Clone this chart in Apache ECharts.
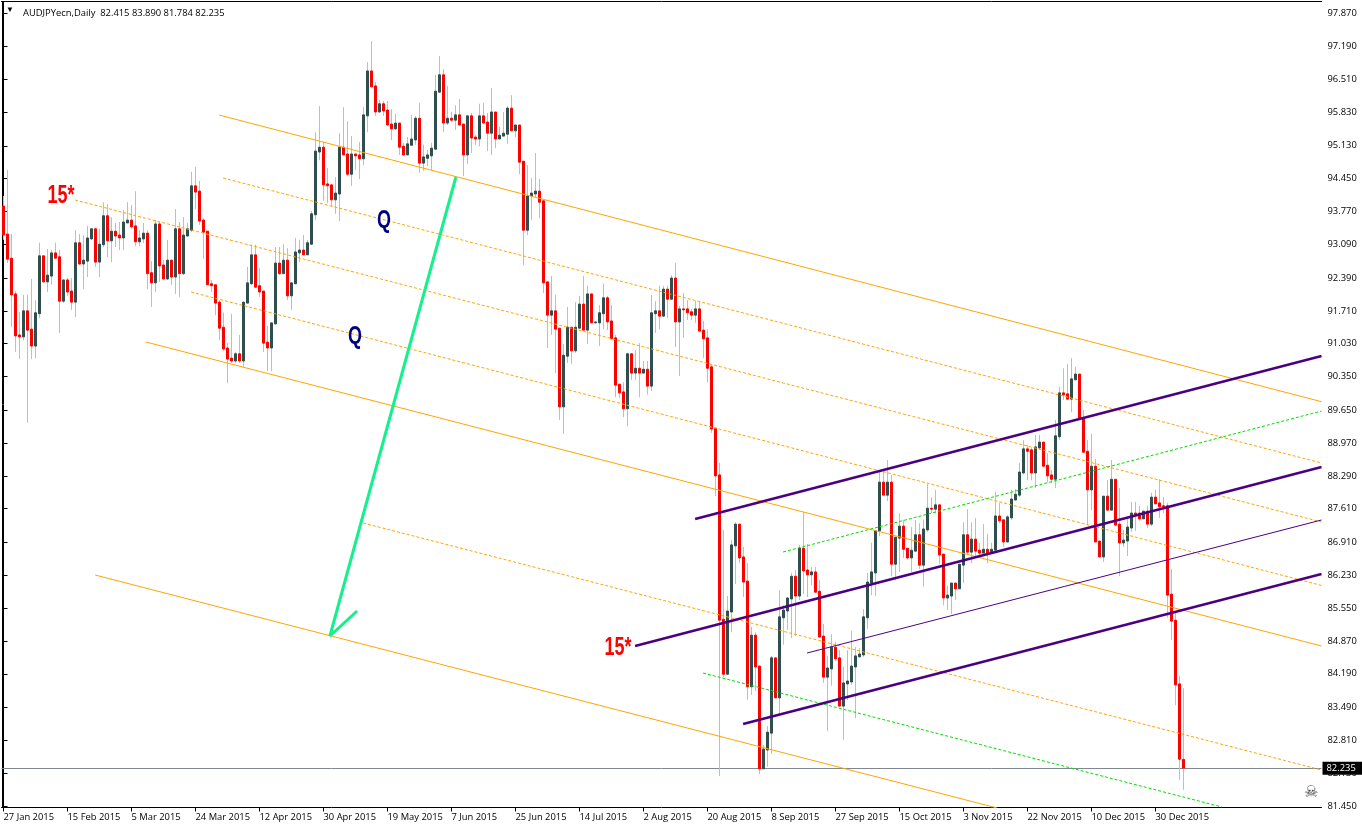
<!DOCTYPE html>
<html><head><meta charset="utf-8">
<style>html,body{margin:0;padding:0;background:#fff}#c{width:1362px;height:829px}</style>
<script src="https://cdn.jsdelivr.net/npm/echarts@6/dist/echarts.min.js"></script>
</head><body><div id="c"></div>
<script>
const dateLabels=['27 Jan 2015','15 Feb 2015','5 Mar 2015','24 Mar 2015','12 Apr 2015','30 Apr 2015','19 May 2015','7 Jun 2015','25 Jun 2015','14 Jul 2015','2 Aug 2015','20 Aug 2015','8 Sep 2015','27 Sep 2015','15 Oct 2015','3 Nov 2015','22 Nov 2015','10 Dec 2015','30 Dec 2015'];
const priceTicks=[97.87,97.19,96.51,95.83,95.13,94.45,93.77,93.09,92.39,91.71,91.03,90.35,89.65,88.97,88.29,87.61,86.91,86.23,85.55,84.87,84.19,83.49,82.81,82.13,81.45];
const opens=[93.88,93.30,92.80,92.06,91.21,91.17,91.71,91.33,90.98,91.65,92.85,92.31,92.43,92.91,92.83,91.91,92.35,92.12,91.89,93.12,92.68,92.74,93.20,93.41,92.72,93.08,93.68,93.16,93.36,93.28,93.22,93.53,93.59,93.47,93.14,93.20,93.32,92.50,92.29,93.51,92.66,92.37,92.76,92.41,93.41,92.48,93.26,93.38,94.30,94.19,93.59,93.36,92.27,92.25,91.89,91.37,90.94,90.73,90.67,90.82,90.67,91.87,92.27,92.87,92.23,92.12,91.06,90.94,91.44,92.70,92.48,92.76,92.02,92.27,92.91,92.97,92.87,93.09,93.70,95.00,95.10,94.34,94.32,94.01,94.13,95.10,94.96,94.54,94.96,94.94,94.86,95.75,96.68,96.37,95.83,96.00,95.87,95.58,95.48,95.60,95.12,94.94,95.14,95.25,95.70,94.77,94.87,94.92,95.06,96.24,96.60,95.60,95.70,95.66,95.77,95.58,94.94,95.75,95.31,95.27,95.75,95.62,95.39,95.83,95.27,95.33,95.37,95.91,95.44,95.56,94.81,93.38,94.09,94.13,94.19,93.99,92.31,91.62,91.71,91.35,89.72,90.77,91.37,90.88,91.35,91.85,91.31,92.06,91.46,91.46,91.65,91.98,91.50,91.15,90.19,90.03,89.68,90.82,90.42,90.52,90.42,90.50,90.15,91.65,91.71,91.60,92.16,91.95,92.39,91.48,91.75,91.75,91.69,91.62,91.75,91.31,91.15,90.55,89.28,88.31,85.32,84.18,85.47,86.84,87.29,86.61,86.11,83.92,84.99,84.35,82.22,82.61,82.96,84.52,83.69,85.35,85.49,85.74,86.21,85.80,86.79,86.34,86.24,86.30,85.90,84.97,84.12,84.29,84.74,84.52,83.52,83.98,84.02,84.33,84.54,84.58,85.35,86.07,86.28,87.15,88.16,87.89,88.16,86.46,87.00,87.25,86.79,86.59,86.73,87.07,86.44,87.17,87.62,87.60,87.69,86.67,85.76,85.80,86.07,85.95,86.44,87.07,86.71,86.98,86.75,86.69,86.77,86.71,86.75,87.46,87.38,86.92,87.42,87.79,87.89,88.35,88.85,88.83,88.35,88.87,88.99,88.51,88.31,88.22,89.10,90.01,89.99,89.88,90.28,90.40,89.49,88.80,88.00,88.49,86.94,86.61,87.87,87.58,88.22,87.29,86.90,86.94,87.21,87.52,87.52,87.40,87.56,87.29,87.85,87.73,87.67,87.67,85.84,85.30,83.98,82.415];
const closes=[93.28,92.78,92.04,91.19,91.17,91.71,91.31,90.98,91.67,92.85,92.31,92.45,92.91,92.80,91.91,92.35,92.10,91.89,93.12,92.68,92.76,93.22,93.41,92.72,93.09,93.68,93.16,93.36,93.26,93.22,93.55,93.59,93.45,93.14,93.22,93.32,92.48,92.29,93.51,92.64,92.37,92.76,92.41,93.41,92.48,93.28,93.41,94.30,94.17,93.57,93.34,92.25,92.23,91.87,91.35,90.92,90.71,90.67,90.82,90.67,91.89,92.29,92.87,92.20,92.10,91.04,90.94,91.46,92.70,92.48,92.76,92.02,92.29,92.93,92.97,92.87,93.12,93.72,95.02,95.10,94.32,94.30,94.01,94.15,95.10,94.94,94.54,94.96,94.92,94.86,95.77,96.68,96.35,95.83,96.00,95.85,95.56,95.48,95.60,95.10,94.94,95.17,95.27,95.70,94.77,94.90,94.94,95.08,96.26,96.60,95.60,95.70,95.66,95.77,95.56,94.94,95.75,95.29,95.27,95.75,95.60,95.39,95.83,95.27,95.35,95.39,95.91,95.44,95.56,94.79,93.38,94.09,94.15,94.19,93.96,92.29,91.62,91.71,91.33,89.72,90.79,91.37,90.88,91.37,91.85,91.31,92.06,91.46,91.48,91.67,91.98,91.48,91.13,90.17,90.01,89.68,90.82,90.42,90.52,90.42,90.50,90.15,91.67,91.71,91.60,92.16,91.95,92.39,91.48,91.75,91.73,91.67,91.62,91.75,91.29,91.13,90.52,89.26,88.29,85.30,84.18,85.49,86.86,87.29,86.59,86.09,83.92,84.99,84.33,82.22,82.63,82.98,84.52,83.69,85.37,85.51,85.76,86.21,85.80,86.79,86.32,86.24,86.30,85.88,84.95,84.12,84.31,84.74,84.50,83.52,84.00,84.04,84.35,84.56,84.60,85.37,86.09,86.30,87.15,88.16,87.89,88.16,86.46,87.02,87.25,86.77,86.59,86.75,87.07,86.44,87.19,87.62,87.60,87.69,86.65,85.76,85.82,86.07,85.95,86.46,87.07,86.71,86.98,86.73,86.69,86.77,86.69,86.77,87.46,87.36,86.92,87.44,87.81,87.91,88.37,88.85,88.80,88.35,88.89,88.99,88.49,88.29,88.22,89.12,90.01,89.97,89.88,90.30,90.40,89.47,88.78,88.00,88.49,86.92,86.61,87.87,87.58,88.22,87.27,86.90,86.96,87.23,87.52,87.48,87.40,87.56,87.29,87.85,87.71,87.65,87.65,85.82,85.28,83.96,82.42,82.235];
const highs=[94.09,94.63,93.30,92.12,91.69,92.04,92.04,92.37,91.93,93.12,92.85,92.99,92.97,93.12,92.97,92.35,92.39,92.39,93.38,93.30,93.28,93.47,93.41,93.43,93.41,93.96,93.92,93.65,93.53,93.55,93.80,93.96,93.90,94.19,93.38,93.53,93.38,92.74,93.59,93.55,92.76,93.18,92.76,93.82,93.55,93.65,93.53,94.59,94.69,94.40,93.63,93.36,92.35,92.25,91.93,91.67,91.04,91.65,90.86,91.21,91.89,92.62,93.08,93.08,92.60,92.12,91.40,91.46,93.03,93.03,93.09,93.01,92.29,93.22,93.18,93.28,93.18,93.78,95.41,95.95,95.21,94.67,94.32,94.48,95.39,95.93,95.64,95.33,94.96,95.21,95.93,96.86,97.30,96.45,96.08,96.06,96.06,95.89,95.79,95.60,95.19,95.31,95.77,95.75,96.02,95.15,95.04,95.19,96.60,96.99,96.72,96.37,95.83,95.97,96.10,95.58,95.75,95.81,95.35,96.00,96.02,95.81,96.33,95.83,95.52,95.83,95.95,96.18,95.56,95.56,94.81,94.73,94.46,94.98,94.44,93.99,92.31,92.43,92.04,91.35,91.02,91.79,91.37,91.89,92.02,92.43,92.23,92.06,91.48,91.83,92.27,92.02,91.83,91.21,90.19,90.23,90.84,90.82,90.90,91.04,90.67,90.67,92.04,91.91,92.23,92.23,92.23,92.45,92.70,91.81,92.08,91.93,91.75,91.91,91.91,91.50,91.33,90.61,89.28,88.56,87.17,85.80,86.96,87.33,87.29,86.82,86.48,85.16,85.05,84.35,82.71,83.11,84.56,84.52,85.92,85.61,85.78,86.28,86.34,86.86,87.54,86.88,86.40,86.40,86.13,85.22,84.56,85.01,84.85,84.68,84.33,84.68,85.08,84.74,84.72,85.53,86.28,86.90,87.15,88.37,88.37,88.62,88.31,87.02,87.52,87.38,86.79,87.23,87.38,87.31,87.38,88.12,87.85,88.00,87.69,86.67,86.01,86.07,86.07,86.46,87.33,87.60,87.33,87.42,86.90,87.29,87.09,86.90,87.96,87.73,87.38,87.48,88.00,88.02,88.56,89.03,88.93,88.87,89.14,89.14,88.99,88.76,88.41,89.45,90.13,90.52,90.61,90.73,90.55,90.40,89.66,89.03,89.16,88.64,86.94,87.87,88.20,88.62,88.22,88.04,87.17,87.44,87.75,87.75,87.67,87.56,87.67,87.94,88.00,88.22,87.85,87.73,86.36,85.45,84.14,83.89];
const lows=[93.18,92.70,91.37,90.86,90.71,91.10,89.39,90.71,90.73,91.56,92.29,92.10,92.25,92.80,91.25,91.87,92.02,91.73,91.58,92.66,92.16,92.41,93.18,92.62,92.41,93.03,92.82,92.72,93.03,92.97,92.97,93.53,93.41,93.05,93.05,93.12,92.16,91.79,92.10,92.31,92.35,92.35,92.25,92.06,92.00,92.45,93.24,93.34,93.82,93.49,92.78,92.25,92.10,91.62,91.10,90.88,90.21,90.63,90.63,90.63,90.55,91.87,92.25,92.18,92.00,90.86,90.46,90.46,91.42,92.45,92.48,91.93,91.73,92.27,92.72,92.87,92.87,93.08,93.59,94.83,93.99,93.94,93.86,93.72,93.57,94.94,94.50,94.30,94.63,94.44,94.73,95.41,96.35,95.75,95.81,95.75,95.56,95.25,95.46,94.94,94.92,94.94,95.15,95.15,94.57,94.61,94.71,94.63,95.04,96.24,95.41,95.56,95.62,95.46,95.56,94.50,94.75,94.98,95.15,95.12,95.60,95.02,94.94,95.08,95.27,95.33,95.17,95.44,95.31,94.54,92.66,93.28,93.59,94.07,93.63,92.08,90.94,91.21,90.42,89.45,89.16,90.63,90.61,90.84,91.35,91.31,91.02,91.46,91.46,90.98,91.33,91.31,91.13,89.92,89.90,89.51,89.32,90.28,90.28,89.92,90.42,89.97,90.05,91.25,91.33,91.58,91.56,91.95,90.96,90.36,91.15,91.52,91.52,91.46,91.29,90.73,90.23,89.18,87.87,82.07,84.12,84.18,85.05,86.05,86.48,85.78,83.65,83.75,83.83,82.11,82.22,82.26,82.53,83.69,83.36,84.79,85.10,84.93,84.97,85.72,85.84,85.78,86.03,85.88,84.95,84.00,83.00,83.94,84.45,83.52,82.82,83.65,83.96,83.27,84.54,84.54,85.12,85.82,85.80,87.04,87.89,87.77,86.21,86.13,86.30,86.59,86.55,86.30,86.73,86.36,85.99,87.13,87.52,87.52,86.46,85.61,85.51,85.43,85.72,85.95,86.07,86.67,86.48,86.59,86.61,86.69,86.48,86.71,86.75,87.31,86.82,86.92,87.38,87.79,87.85,88.33,88.20,88.20,88.04,88.83,88.49,88.16,88.14,88.04,89.03,89.86,89.88,89.61,90.28,89.47,88.78,87.27,87.58,86.92,86.61,86.51,87.58,87.58,87.27,86.21,86.82,86.63,87.13,87.15,87.36,87.40,87.21,87.25,87.71,87.42,87.52,85.35,84.89,83.54,81.99,81.784];
const lastPrice=82.235;
const orangeSolid=[[[53.9,95.767],[329.5,89.827]],[[35.6,91.064],[329.5,84.765]],[[22.9,86.236],[248.4,81.408]]];
const orangeDash=[[[17.9,94.006],[329.5,87.334]],[[54.9,94.462],[329.5,88.557]],[[46.9,92.1],[329.5,86.02]],[[89.9,87.314],[329.5,82.196]]];
const greenDash=[[[174.9,84.205],[304.6,81.43]],[[194.9,86.713],[329.5,89.634]]];
const purpleThick=[[[172.9,87.396],[329.5,90.774]],[[157.9,84.765],[329.5,88.474]],[[184.9,83.149],[329.5,86.257]]];
const purpleThin=[[[200.9,84.62],[329.5,87.376]]];
const arrowPath=[[113.1,94.483],[81.6,84.972],[88.4,85.49]];
const redNotes=[[14.4,94.09,'15*'],[153.6,84.72,'15*']];
const blueNotes=[[95.1,93.57,'Q'],[87.9,91.17,'Q']];

const N=330;
const categories=Array.from({length:N},(_,i)=>(i%16===0&&dateLabels[i/16])||'');
const showTick=i=>i%16===0&&i/16<dateLabels.length;
const FONT='"Open Sans"';
const wickData=opens.map((o,i)=>[o,closes[i],lows[i],highs[i]]);
const bodyData=opens.map((o,i)=>[o,closes[i],Math.min(o,closes[i]),Math.max(o,closes[i])]);
function lineSeries(data,color,width,type){return {type:'line',xAxisIndex:1,yAxisIndex:0,data,symbol:'none',silent:true,z:5,animation:false,
  lineStyle:{color,width,type:type||'solid'}};}
function noteSeries(data,color,size){return {type:'custom',xAxisIndex:1,yAxisIndex:0,data,z:6,silent:true,animation:false,clip:false,
  encode:{x:0,y:1},
  renderItem:(params,api)=>{const pt=api.coord([api.value(0),api.value(1)]);
    return {type:'text',x:pt[0],y:pt[1],scaleX:0.72,scaleY:1,
      style:{text:data[params.dataIndex][2],fill:color,font:'bold '+size+'px "Liberation Sans"',textAlign:'center',textVerticalAlign:'middle'}};}};}
const series=[
 {type:'candlestick',data:wickData,barWidth:0,z:2,silent:true,animation:false,
  itemStyle:{color:'#BEBEBE',color0:'#BEBEBE',borderColor:'#BEBEBE',borderColor0:'#BEBEBE',borderColorDoji:'#BEBEBE',borderWidth:1}},
 {type:'candlestick',data:bodyData,barWidth:2,z:3,silent:true,animation:false,
  itemStyle:{color:'#2F4F4F',color0:'#FF0000',borderColor:'#2F4F4F',borderColor0:'#FF0000',borderColorDoji:'#FF0000',borderWidth:1},
  markLine:{silent:true,symbol:'none',animation:false,z:1,data:[{yAxis:lastPrice}],lineStyle:{color:'#7F8890',width:1,type:'solid'},
   label:{show:true,position:'end',distance:1,formatter:()=>lastPrice.toFixed(3),color:'#fff',backgroundColor:'#000',padding:[2,8,2,4],fontSize:9.4,fontFamily:FONT}}},
];
orangeSolid.forEach(l=>series.push(lineSeries(l,'#FFA500',1)));
orangeDash.forEach(l=>series.push(lineSeries(l,'#FFA500',1,[3,2])));
greenDash.forEach(l=>series.push(lineSeries(l,'#00E000',1,[3,2])));
purpleThick.forEach(l=>series.push(lineSeries(l,'#4B0082',2.5)));
purpleThin.forEach(l=>series.push(lineSeries(l,'#4B0082',1)));
series.push(lineSeries(arrowPath,'#14F08C',3));
series.push(noteSeries(redNotes,'#FF0000',25));
series.push(noteSeries(blueNotes,'#000080',25));

const chart=echarts.init(document.getElementById('c'),null,{renderer:'canvas'});
chart.setOption({
 animation:false,backgroundColor:'#fff',
 title:{text:'AUDJPYecn,Daily  82.415 83.890 81.784 82.235',left:18,top:4,textStyle:{fontSize:9.4,fontWeight:'normal',color:'#000',fontFamily:FONT}},
 grid:{left:1.5,top:1.5,width:1320,height:806,show:false},
 xAxis:[
  {type:'category',data:categories,boundaryGap:true,position:'bottom',
   axisLine:{show:true,lineStyle:{color:'#000'}},
   axisTick:{show:true,alignWithLabel:true,interval:(i)=>showTick(i),length:4,lineStyle:{color:'#000'}},
   axisLabel:{show:true,interval:(i)=>showTick(i),align:'left',margin:5,color:'#000',fontSize:9.4,fontFamily:FONT,hideOverlap:false},
   splitLine:{show:false}},
  {type:'value',min:-0.5,max:329.5,position:'top',axisLine:{show:true,onZero:false,lineStyle:{color:'#000'}},axisTick:{show:false},axisLabel:{show:false},splitLine:{show:false}}
 ],
 yAxis:[{type:'value',position:'right',min:81.419,max:98.119,scale:true,
   axisLine:{show:true,lineStyle:{color:'#000'}},
   axisTick:{show:true,length:4,customValues:priceTicks,lineStyle:{color:'#000'}},
   axisLabel:{show:true,customValues:priceTicks,margin:6,color:'#000',fontSize:9.4,fontFamily:FONT,formatter:v=>v.toFixed(3)},
   splitLine:{show:false}},
  {type:'value',position:'left',offset:-1,min:81.419,max:98.119,scale:true,
   axisLine:{show:true,onZero:false,lineStyle:{color:'#000'}},axisTick:{show:false},axisLabel:{show:false},splitLine:{show:false}}],
 graphic:[
  {type:'text',left:6,top:6,z:10,silent:true,style:{text:'▼',fontSize:8,fill:'#000'}},
  {type:'text',left:1304,top:785,z:10,silent:true,style:{text:'☠',fontSize:16,fill:'#444',fontFamily:'"DejaVu Sans"'}}
 ],
 series
});
</script></body></html>
